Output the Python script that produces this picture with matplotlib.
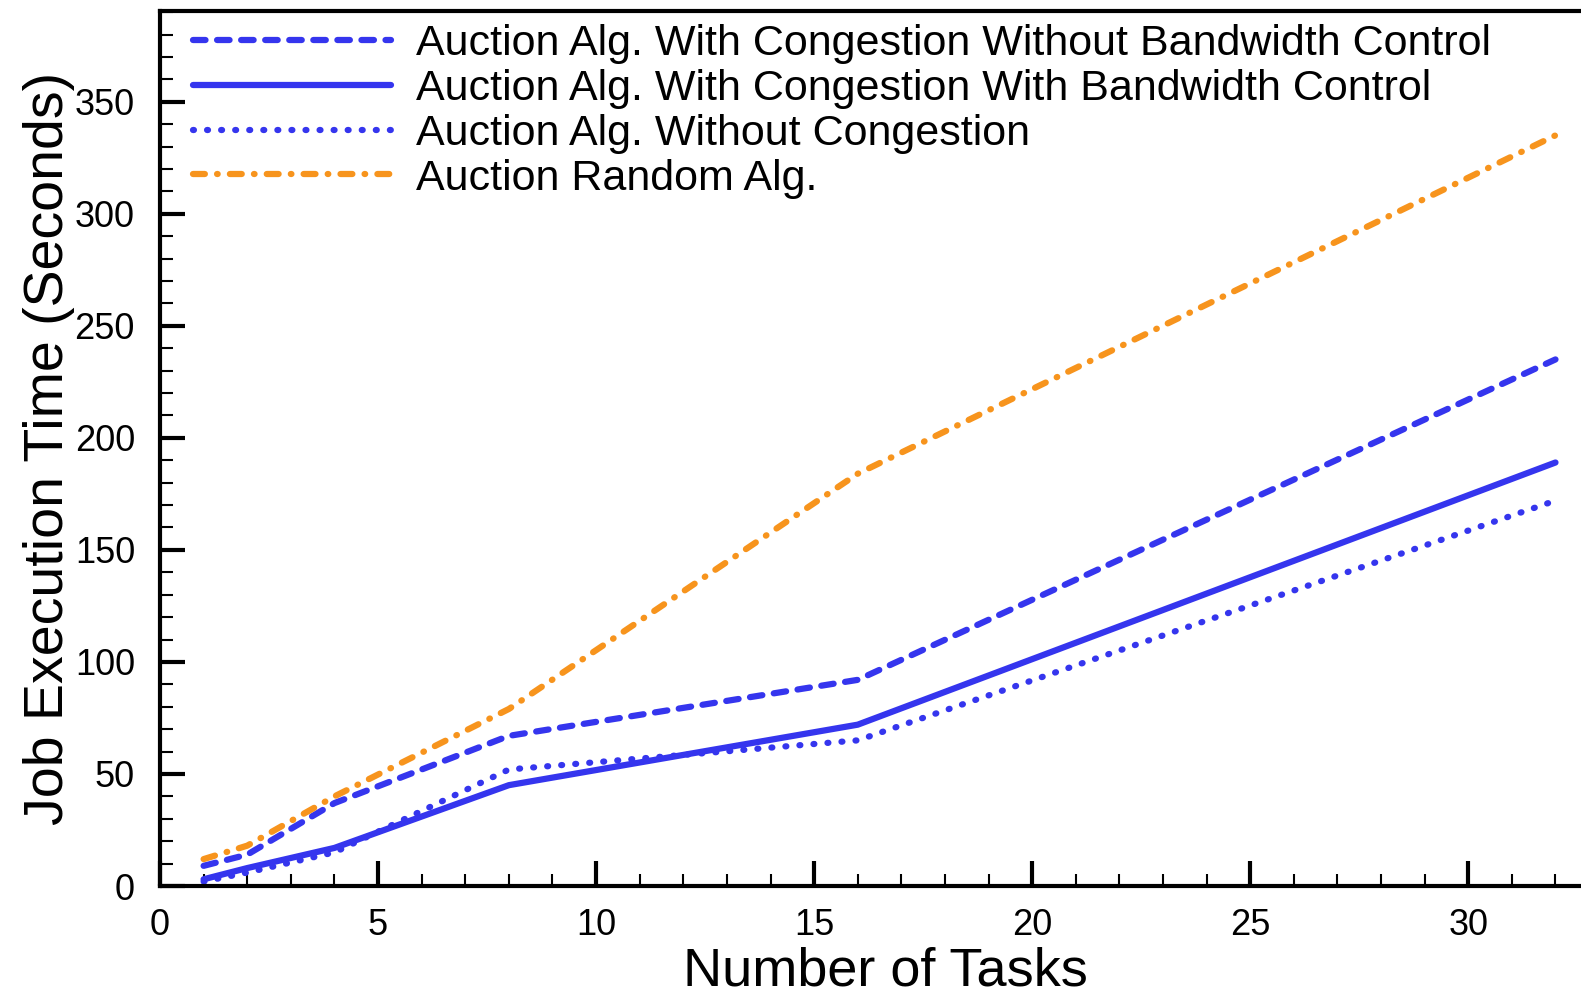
import matplotlib.pyplot as plt
from matplotlib.ticker import MultipleLocator

plt.rcParams['font.family'] = ['Liberation Sans', 'DejaVu Sans']

# Number of tasks on the x axis
tasks = [1, 2, 4, 8, 16, 32]

# Job execution time (seconds)
congestion_no_bw = [9, 14, 37, 67, 92, 235]
congestion_bw = [3, 8, 17, 45, 72, 189]
no_congestion = [2, 6, 15, 52, 65, 172]
random_alg = [12, 18, 40, 79, 184, 335]

labels = [
    'Auction Alg. With Congestion Without Bandwidth Control',
    'Auction Alg. With Congestion With Bandwidth Control',
    'Auction Alg. Without Congestion',
    'Auction Random Alg.',
]

blue = '#3535ee'
orange = '#f7941d'

fig = plt.figure(figsize=(15.81, 9.97), dpi=100)
# axes run past the right edge of the figure, like the cropped original
ax = fig.add_axes([160 / 1581, 1 - 886 / 997, 1450 / 1581, 875 / 997])

lw = 4.5
ax.plot(tasks, congestion_no_bw, color=blue, lw=lw, dashes=(2.0, 1.85),
        dash_capstyle='round', label=labels[0])
ax.plot(tasks, congestion_bw, color=blue, lw=lw, solid_capstyle='round',
        label=labels[1])
ax.plot(tasks, no_congestion, color=blue, lw=lw, dashes=(0.15, 2.1),
        dash_capstyle='round', label=labels[2])
ax.plot(tasks, random_alg, color=orange, lw=lw, dashes=(1.9, 1.95, 0.1, 1.95),
        dash_capstyle='round', label=labels[3])

ax.set_xlim(0, 33.25)
ax.set_ylim(0, 390.5)
ax.xaxis.set_major_locator(MultipleLocator(5))
ax.xaxis.set_minor_locator(MultipleLocator(1))
ax.yaxis.set_major_locator(MultipleLocator(50))
ax.yaxis.set_minor_locator(MultipleLocator(10))

ax.tick_params(which='major', direction='in', length=18, width=3,
               labelsize=26, top=False, right=False)
ax.tick_params(axis='x', which='major', pad=16)
ax.tick_params(axis='y', which='major', pad=18)
ax.tick_params(which='minor', direction='in', length=9, width=1.5,
               top=False, right=False)
for side in ['left', 'bottom', 'top']:
    ax.spines[side].set_linewidth(3)
ax.spines['right'].set_visible(False)

ax.set_xlabel('Number of Tasks', fontsize=39, labelpad=2)
ax.set_ylabel('Job Execution Time (Seconds)', fontsize=40, labelpad=0)

ax.legend(loc='upper left', bbox_to_anchor=(0.0138, 1.0), frameon=False,
          fontsize=31, handlelength=4.6, handletextpad=0.58,
          labelspacing=0.113, borderaxespad=0.1, borderpad=0.2)

fig.savefig('out.png', dpi=100)
